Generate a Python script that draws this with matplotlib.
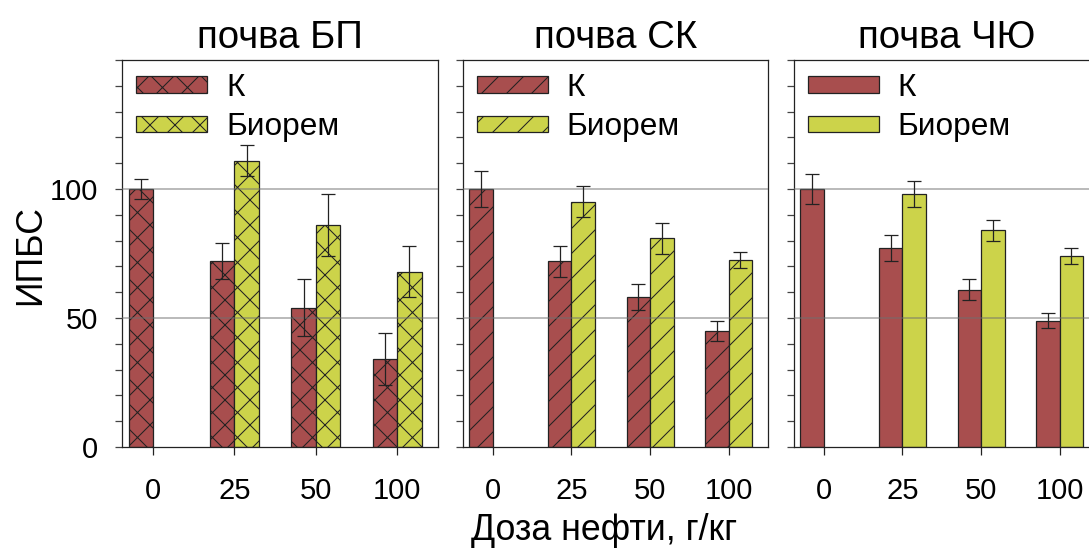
import numpy as np
import matplotlib
matplotlib.use("Agg")
import matplotlib.pyplot as plt
from matplotlib.ticker import MultipleLocator

plt.rcParams['font.family'] = ['Liberation Sans', 'DejaVu Sans']
plt.rcParams['hatch.linewidth'] = 0.5

# data
doses = ['0', '25', '50', '100']
soils = ['почва БП', 'почва СК', 'почва ЧЮ']
hatches = ['xx', '//', '']

k_vals = [[100, 72, 54, 34], [100, 72, 58, 45], [100, 77, 61, 49]]
k_errs = [[4, 7, 11, 10], [7, 6, 5, 4], [6, 5, 4, 3]]
# Биорем has no bar at dose 0
bio_vals = [[111, 86, 68], [95, 81, 72.5], [98, 84, 74]]
bio_errs = [[6, 12, 10], [6, 6, 3], [5, 4, 3]]

red = '#a84e4e'
yellow = '#ccd34a'
edge = '#222222'

DPI = 150
fig = plt.figure(figsize=(1089 / DPI, 548 / DPI), dpi=DPI)
fs_tick = 14
fs_leg = 15.2
fs_lab = 17.2
fs_title = 18.4

lefts = [122, 463, 794]
widths = [316, 305, 305]
bw = 0.3
x = np.arange(len(doses))

for i in range(3):
    ax = fig.add_axes([lefts[i] / 1089, 1 - 447 / 548, widths[i] / 1089, 387 / 548])
    ax.bar(x - bw / 2, k_vals[i], bw, color=red, edgecolor=edge, linewidth=0.6,
           hatch=hatches[i], label='К', zorder=2)
    ax.bar(x[1:] + bw / 2, bio_vals[i], bw, color=yellow, edgecolor=edge, linewidth=0.6,
           hatch=hatches[i], label='Биорем', zorder=2)
    ax.errorbar(x - bw / 2, k_vals[i], yerr=k_errs[i], fmt='none', ecolor=edge,
                elinewidth=0.6, capsize=3.3, capthick=0.6, zorder=4)
    ax.errorbar(x[1:] + bw / 2, bio_vals[i], yerr=bio_errs[i], fmt='none', ecolor=edge,
                elinewidth=0.6, capsize=3.3, capthick=0.6, zorder=4)
    for g in (50, 100):
        ax.axhline(g, color='#707070', alpha=0.5, lw=0.9, zorder=3)

    ax.set_xlim(-0.38, 3.5)
    ax.set_ylim(0, 150)
    ax.set_xticks(x)
    ax.set_xticklabels(doses, fontsize=fs_tick)
    ax.set_yticks([0, 50, 100])
    ax.yaxis.set_minor_locator(MultipleLocator(10))
    ax.tick_params(axis='x', length=4, width=0.6, pad=10.5, color=edge)
    ax.tick_params(axis='y', which='both', length=3.5, width=0.6, pad=8, color='#444444',
                   labelsize=fs_tick)
    if i > 0:
        ax.tick_params(axis='y', labelleft=False)
    for sp in ax.spines.values():
        sp.set_linewidth(0.6)
        sp.set_color(edge)
    ax.set_title(soils[i], fontsize=fs_title, pad=6)

    ax.legend(loc='upper left', bbox_to_anchor=(0.045, 0.967), frameon=False,
              fontsize=fs_leg, handlelength=2.24, handleheight=0.44, handletextpad=0.6,
              labelspacing=0.3, borderpad=0, borderaxespad=0)

fig.text(31 / 1089, 1 - 255 / 548, 'ИПБС', rotation=90, ha='center', va='center', fontsize=fs_lab)
fig.text(604 / 1089, 1 - 530 / 548, 'Доза нефти, г/кг', ha='center', va='center', fontsize=fs_lab)

fig.savefig('out.png', dpi=DPI)
